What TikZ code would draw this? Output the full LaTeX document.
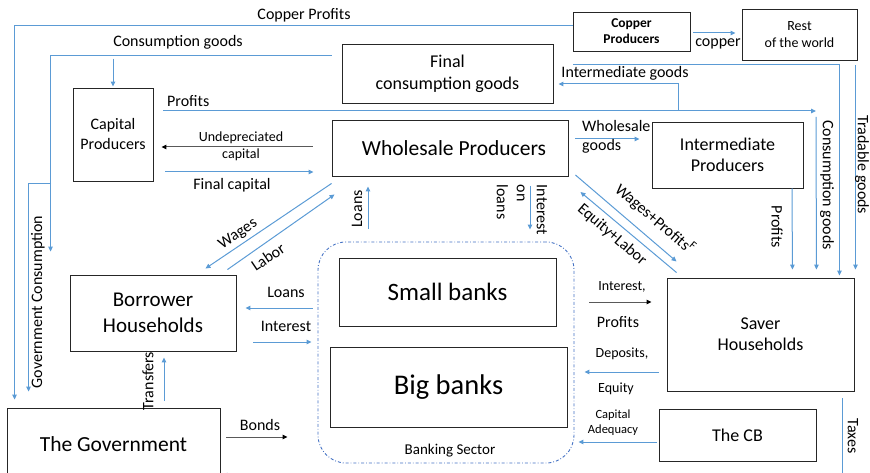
\documentclass[tikz,border=0pt]{standalone}
\usepackage{fontspec}
\setmainfont{Carlito}
\usetikzlibrary{arrows.meta}

\definecolor{flowblue}{RGB}{91,155,213}
\definecolor{bankblue}{RGB}{68,114,196}

\tikzstyle{bS}=[rectangle,draw=black!85,line width=0.9pt,inner sep=0pt,align=center]
\tikzstyle{aS}=[draw=flowblue,line width=1pt,-{Triangle[length=5pt,width=4.5pt]}]
\tikzstyle{kS}=[draw=black!65,line width=1pt,-{Triangle[length=5pt,width=4.5pt,color=black]}]
\tikzstyle{lS}=[inner sep=0pt,align=center,font=\fontsize{16}{19}\selectfont]
\tikzstyle{sS}=[inner sep=0pt,align=center,font=\fontsize{14}{17}\selectfont]

\begin{document}
\begin{tikzpicture}[x=1pt,y=-1pt]%[1pt per pixel, y down]
                \useasboundingbox (0,0) rectangle (870,473);
                \clip (0,0) rectangle (870,473);
                % agents
                \draw (631.5,31.5) node[bS,minimum width=117pt,minimum height=39pt,font=\bfseries\fontsize{13.5}{16}\selectfont] (cop) {Copper\\Producers};
                \draw (799.5,34.5) node[bS,minimum width=115pt,minimum height=51pt,font=\fontsize{14}{17}\selectfont] (row) {Rest\\of the world};
                \draw (447.5,73.5) node[bS,minimum width=211pt,minimum height=59pt,font=\fontsize{18}{22}\selectfont] (fcg) {Final\\consumption goods};
                \draw (113,134.5) node[bS,minimum width=80pt,minimum height=93pt,font=\fontsize{16}{20}\selectfont] (cap) {Capital\\Producers};
                \draw (450,148) node[bS,minimum width=236pt,minimum height=56pt,font=\fontsize{21.5}{26}\selectfont] (whp) {\hspace{8pt}Wholesale Producers};
                \draw (727.5,155) node[bS,minimum width=151pt,minimum height=66pt,font=\fontsize{18}{21}\selectfont] (imp) {Intermediate\\Producers};
                \draw (153,313) node[bS,minimum width=166pt,minimum height=76pt,font=\fontsize{21}{26}\selectfont] (bor) {Borrower\\Households};
                \draw (446,352.5) node[draw=bankblue,line width=0.9pt,dash pattern=on 3pt off 2pt on 0.8pt off 2pt,rounded corners=28pt,minimum width=256pt,minimum height=221pt] (bank) {};
                \draw (447.5,292) node[bS,minimum width=217pt,minimum height=68pt,font=\fontsize{25}{30}\selectfont] (sb) {Small banks};
                \draw (448.5,387) node[bS,minimum width=237pt,minimum height=80pt,font=\fontsize{28.5}{34}\selectfont] (bb) {Big banks};
                \draw (760.5,334.5) node[bS,minimum width=187pt,minimum height=113pt,font=\fontsize{18}{21}\selectfont] (sav) {Saver\\Households};
                \draw (737.5,435) node[bS,minimum width=157pt,minimum height=52pt,font=\fontsize{18}{22}\selectfont] (cb) {The CB};
                \draw (113.5,444) node[bS,minimum width=213pt,minimum height=72pt,font=\fontsize{21.5}{26}\selectfont] (gov) {The Government};
                % branch points
                \coordinate (gc) at (51,184);
                \coordinate (pc) at (816,111);
                \coordinate (ic) at (678,111);
                % long flows
                \draw[aS] ([yshift=5.5pt]cop.west) -| ([xshift=8pt,yshift=8pt]gov.north west);
                \draw[aS] ([xshift=-10pt,yshift=17.5pt]fcg.west) -| ([xshift=-19pt,yshift=23pt]bor.north west);
                \draw[aS] (gc) -| ([xshift=22pt,yshift=16pt]gov.north west);
                \draw[aS] ([xshift=20pt,yshift=8.5pt]fcg.east) -| ([xshift=-15pt,yshift=2pt]sav.north east);
                \draw[aS] ([xshift=10pt,yshift=23.5pt]cap.east) -- (pc);
                \draw[aS] (ic) |- ([xshift=5pt,yshift=-10.5pt]fcg.east);
                \draw[aS] ([xshift=-12pt,yshift=-7pt]sav.south east) |- ([xshift=2pt,yshift=-31pt]gov.east);
                \path
                    ([xshift=3pt,yshift=-1.5pt]cop.east) edge[aS] ([xshift=-6pt,yshift=1.5pt]row.west)
                    ([yshift=29pt]cap.north) edge[aS] ([yshift=1pt]cap.north)
                    ([xshift=-2pt,yshift=-5pt]row.south east) edge[aS] ([xshift=1pt,yshift=8pt]sav.north east)
                    ([yshift=-6pt]pc) edge[aS] ([xshift=-38pt,yshift=8pt]sav.north east)
                    ([xshift=64.5pt]imp.south) edge[aS] ([xshift=-62pt,yshift=8pt]sav.north east)
                    ([xshift=7pt,yshift=9pt]whp.east) edge[aS] ([xshift=-12pt,yshift=16pt]imp.west)
                    ([xshift=-19pt,yshift=1pt]whp.west) edge[kS] ([xshift=8pt,yshift=-12.5pt]cap.east)
                    ([xshift=12pt,yshift=-37.5pt]cap.east) edge[aS] ([xshift=-18pt,yshift=-24pt]whp.west)
                    ([yshift=-7pt]whp.south west) edge[aS] ([xshift=-31pt,yshift=6pt]bor.north east)
                    ([xshift=-9pt,yshift=5pt]bor.north east) edge[aS] ([xshift=3pt,yshift=-18pt]whp.south west)
                    ([xshift=-78pt,yshift=13pt]bank.north) edge[aS] ([xshift=-82pt,yshift=-10pt]whp.south)
                    ([xshift=80pt,yshift=-10pt]whp.south) edge[aS] ([xshift=84pt,yshift=12pt]bank.north)
                    ([xshift=7pt,yshift=-27pt]whp.east) edge[aS] ([xshift=10pt,yshift=16pt]sav.north west)
                    ([xshift=10pt,yshift=5pt]sav.north west) edge[aS] ([xshift=12pt,yshift=-44pt]whp.east)
                    ([xshift=-5pt,yshift=44.5pt]bank.west) edge[aS] ([xshift=9pt,yshift=5pt]bor.east)
                    ([xshift=17pt,yshift=-29pt]bor.east) edge[aS] ([xshift=-6pt,yshift=10.5pt]bank.west)
                    ([xshift=50.5pt,yshift=7pt]gov.north) edge[aS] ([xshift=11pt,yshift=-6pt]bor.south)
                    ([xshift=6pt,yshift=7pt]gov.east) edge[kS] ([xshift=-30pt,yshift=-84.5pt]bank.west)
                    ([xshift=15pt,yshift=50.5pt]bank.east) edge[kS] ([xshift=-15pt,yshift=32.5pt]sav.west)
                    ([xshift=-8pt,yshift=-37.5pt]sav.west) edge[aS] ([xshift=10pt,yshift=-19.5pt]bank.east)
                    ([xshift=-2pt,yshift=-7pt]cb.west) edge[aS] ([xshift=4pt,yshift=-89.5pt]bank.east)
                ;
                % flow labels
                \draw (304,15) node[lS] (tcp) {Copper Profits};
                \draw (178,42) node[lS] (tcg) {Consumption goods};
                \draw (167,101) node[lS,anchor=west] (tpr) {Profits};
                \draw (241,146) node[sS] (tuc) {Undepreciated\\capital};
                \draw (232,185) node[lS] (tfc) {Final capital};
                \draw (625,73) node[lS] (tig) {Intermediate goods};
                \draw (718,44) node[lS] (tco) {copper};
                \draw (582,137) node[lS,anchor=west,align=left] (twg) {Wholesale\\goods};
                \draw (38,302) node[lS,rotate=90] (tgc) {Government Consumption};
                \draw (827,185) node[lS,rotate=-90] (tcs) {Consumption goods};
                \draw (862,165) node[lS,rotate=-90] (ttg) {Tradable goods};
                \draw (777,227) node[lS,rotate=-90] (tpi) {Profits};
                \draw (238,234) node[lS,rotate=34] (twa) {Wages};
                \draw (268,257) node[lS,rotate=34] (tla) {Labor};
                \draw (357,209) node[lS,rotate=90] (tlo) {Loans};
                \draw (522,210) node[lS,rotate=-90,align=left,font=\fontsize{16}{20}\selectfont] (til) {Interest\\on\\loans};
                \draw (655,219) node[lS,rotate=-40.5] (twp) {Wages+Profits\textsuperscript{F}};
                \draw (612,235) node[lS,rotate=-40.5] (tel) {Equity+Labor};
                \draw (286,292) node[lS] (tbl) {Loans};
                \draw (286,326) node[lS] (tbi) {Interest};
                \draw (148,381) node[lS,rotate=90] (ttr) {Transfers};
                \draw (260,425) node[lS] (tbo) {Bonds};
                \draw (450,451) node[lS,font=\fontsize{15}{18}\selectfont] (tbs) {Banking Sector};
                \draw (622,287) node[sS] (tip) {Interest,};
                \draw (618,322) node[lS] (tsp) {Profits};
                \draw (622,354) node[sS] (tde) {Deposits,};
                \draw (616,389) node[sS] (teq) {Equity};
                \draw (613,423) node[inner sep=0pt,align=center,font=\fontsize{12.5}{15}\selectfont] (tca) {Capital\\Adequacy};
                \draw (853,436) node[lS,rotate=-90] (tta) {Taxes};
        \end{tikzpicture}
\end{document}
